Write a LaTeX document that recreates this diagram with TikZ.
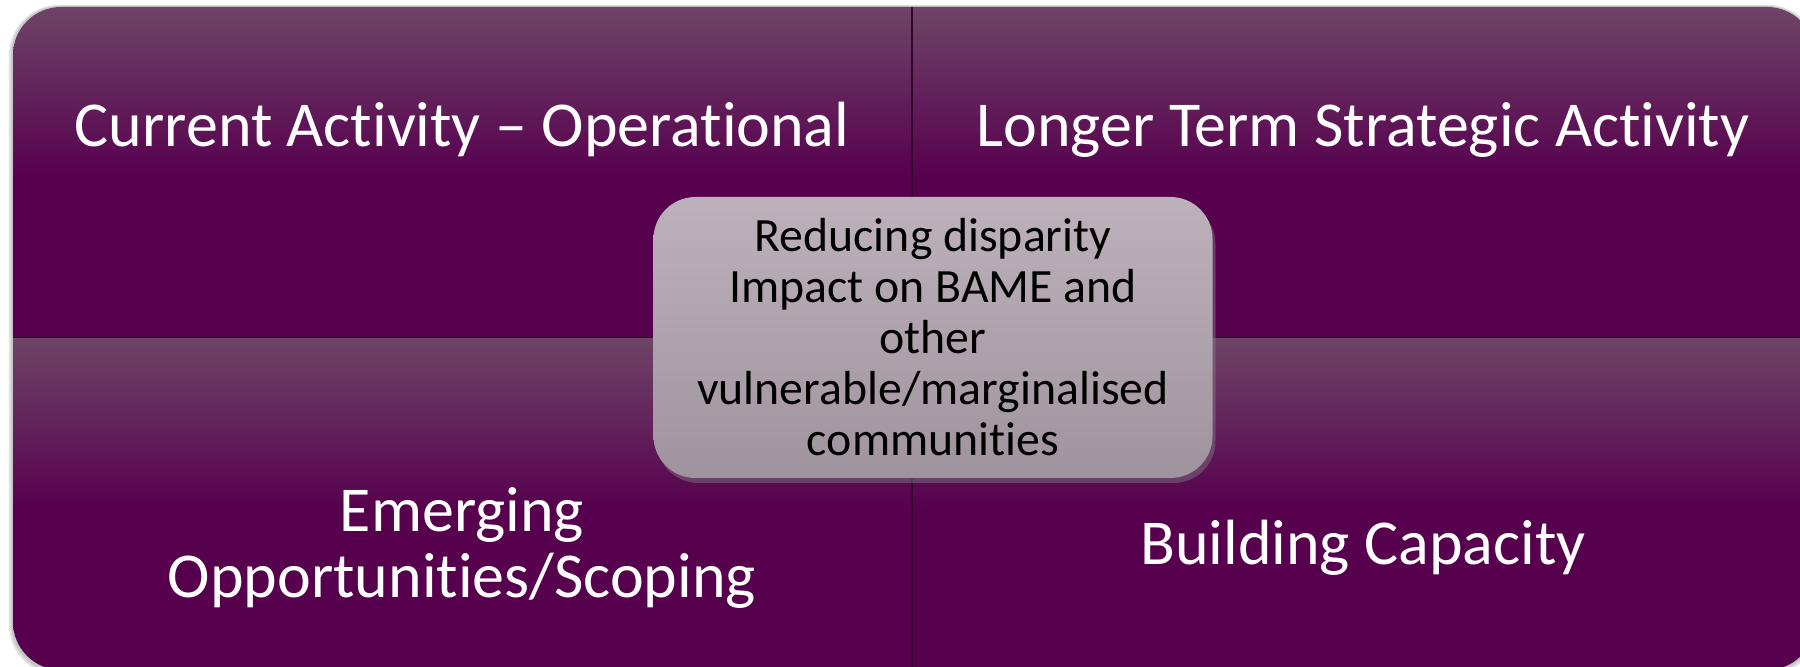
\documentclass[tikz,border=0pt]{standalone}
\usepackage{fontspec}
\setmainfont{Carlito}[Ligatures=NoCommon]
\usetikzlibrary{shadows}
\definecolor{quadtop}{HTML}{6E4467}
\definecolor{quadbot}{HTML}{57004E}
\definecolor{quadline}{HTML}{48083F}
\definecolor{hubtop}{HTML}{BDB2BB}
\definecolor{hubbot}{HTML}{9F939D}
\pgfdeclareverticalshading{quadshade}{100bp}{color(0bp)=(quadbot); color(25bp)=(quadbot); color(49bp)=(quadbot); color(75bp)=(quadtop); color(100bp)=(quadtop)}
\begin{document}
\begin{tikzpicture}[quad/.style={shading=quadshade},
  quadtext/.style={text=white, align=center, font=\fontsize{18.2}{19}\selectfont},
  hub/.style={rounded corners=0.42cm, top color=hubtop, bottom color=hubbot, minimum width=5.59cm, minimum height=2.81cm, align=center, font=\fontsize{13.6}{14.5}\selectfont, drop shadow={shadow xshift=0.03cm, shadow yshift=-0.05cm, opacity=0.45}}]
\useasboundingbox (0,0) rectangle (18,6.67);
\clip (0,0) rectangle (18,6.67);
% soft shadow round the matrix
\fill[black!12, rounded corners=0.5cm] (0.09,-0.08) rectangle (18.18,6.62);
\fill[black!22, rounded corners=0.49cm] (0.11,-0.06) rectangle (18.16,6.61);
\begin{scope}
\clip[rounded corners=0.48cm] (0.13,-0.03) rectangle (18.15,6.60);
\shade[quad] (0.13,3.30) rectangle (9.12,6.60);
\shade[quad] (9.12,3.30) rectangle (18.15,6.60);
\shade[quad] (0.13,-0.03) rectangle (9.12,3.30);
\shade[quad] (9.12,-0.03) rectangle (18.15,3.30);
\draw[quadline, line width=0.6pt] (0.13,3.30) -- (18.15,3.30);
\draw[quadline!70!black, line width=0.4pt] (9.12,-0.03) -- (9.12,6.60);
\end{scope}
\node[quadtext, anchor=base] (ops) at (4.62,5.20) {Current Activity -- Operational};
\node[quadtext, anchor=base] (strat) at (13.63,5.20) {Longer Term Strategic Activity};
\node[quadtext] (scope) at (4.62,1.19) {Emerging\\Opportunities/Scoping};
\node[quadtext, anchor=base] (capacity) at (13.63,1.02) {Building Capacity};
\node[hub] (disparity) at (9.33,3.295) {Reducing disparity\\Impact on BAME and\\other\\vulnerable/marginalised\\communities};
\end{tikzpicture}
\end{document}
